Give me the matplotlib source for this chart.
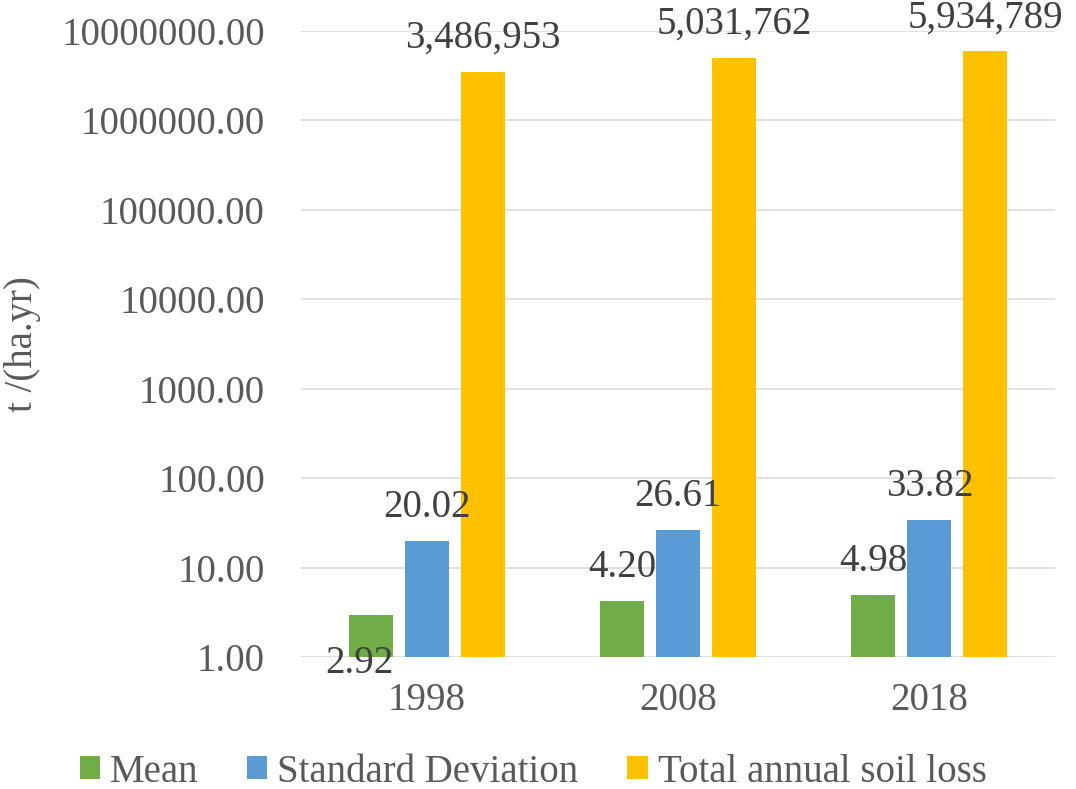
import numpy as np
import matplotlib
matplotlib.use('Agg')
import matplotlib.pyplot as plt
from matplotlib.patches import Patch
from matplotlib.ticker import FixedLocator, FuncFormatter, NullLocator

years = ['1998', '2008', '2018']
mean_loss = [2.92, 4.20, 4.98]
std_loss = [20.02, 26.61, 33.82]
total_loss = [3486953, 5031762, 5934789]

series_names = ['Mean', 'Standard Deviation', 'Total annual soil loss']
colors = ['#70AD47', '#5B9BD5', '#FFC000']

plt.rcParams['font.family'] = ['Liberation Serif', 'DejaVu Serif']
plt.rcParams['font.size'] = 28

fig = plt.figure(figsize=(10.76, 7.89), dpi=100)
ax = fig.add_axes([301 / 1076, 1 - 657 / 789, 754 / 1076, 626 / 789])

x = np.arange(len(years))
width = 0.175
offsets = [-0.2228, 0.0, 0.2228]
all_series = [mean_loss, std_loss, total_loss]
fmts = ['{:.2f}', '{:.2f}', '{:,.0f}']

for vals, off, col, fmt in zip(all_series, offsets, colors, fmts):
    bars = ax.bar(x + off, vals, width, color=col, zorder=2)
    for i, (b, v) in enumerate(zip(bars, vals)):
        cx = b.get_x() + b.get_width() / 2
        if fmt == '{:.2f}' and col == colors[0] and i == 0:
            # excel pushed this one below the top of the bar
            ax.annotate(fmt.format(v), (cx, 1.0), xytext=(-8, -5),
                        textcoords='offset points', ha='center', va='center',
                        color='#404040', zorder=3, annotation_clip=False)
        else:
            ax.annotate(fmt.format(v), (cx, v), xytext=(0, 24),
                        textcoords='offset points', ha='center', va='center',
                        color='#404040', zorder=3, annotation_clip=False)

ax.set_yscale('log')
ax.set_ylim(1, 1e7)
ax.set_xlim(-0.5, 2.5)
ax.yaxis.set_major_locator(FixedLocator([10.0 ** k for k in range(8)]))
ax.yaxis.set_minor_locator(NullLocator())
ax.yaxis.set_major_formatter(FuncFormatter(lambda v, p: '{:.2f}'.format(v)))
ax.set_xticks(x)
ax.set_xticklabels(years)

ax.grid(axis='y', color='#D9D9D9', linewidth=1.1, zorder=0)
ax.set_axisbelow(True)
for s in ax.spines.values():
    s.set_visible(False)
ax.tick_params(axis='x', length=0, pad=18, colors='#595959')
ax.tick_params(axis='y', length=0, pad=26, colors='#595959')

ax.set_ylabel('t /(ha.yr)', color='#595959')
ax.yaxis.set_label_coords((41 - 301) / 754, 0.5)

handles = [Patch(facecolor=c, edgecolor='none') for c in colors]
leg = fig.legend(handles, series_names, loc='center', ncol=3,
                 bbox_to_anchor=(533 / 1076, 1 - 772 / 789), frameon=False,
                 handlelength=0.52, handleheight=0.52, handletextpad=0.26,
                 columnspacing=1.25, borderpad=0)
for t in leg.get_texts():
    t.set_color('#595959')

fig.savefig('out.png', dpi=100)
